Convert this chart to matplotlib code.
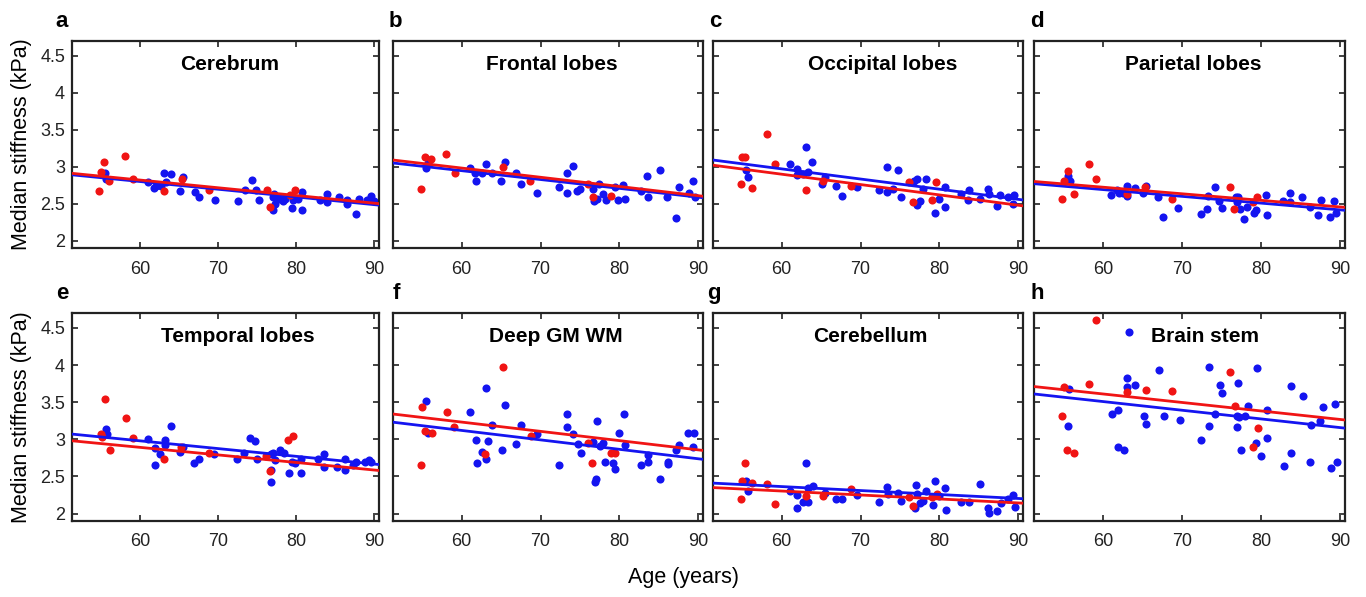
import matplotlib
matplotlib.use("Agg")
import matplotlib.pyplot as plt

plt.rcParams["font.family"] = ["Liberation Sans", "DejaVu Sans"]

# ages (years) and median stiffness (kPa), per region
cerebrum_red_age = [54.8, 55.0, 55.4, 56.1, 58.1, 59.1, 63.1, 65.4, 68.9, 76.2, 76.7, 79.2, 79.8]
cerebrum_red_kpa = [2.67, 2.93, 3.07, 2.81, 3.14, 2.83, 2.67, 2.84, 2.68, 2.68, 2.45, 2.62, 2.69]
cerebrum_blue_age = [55.5, 55.7, 61.0, 61.8, 62.1, 62.7, 63.1, 63.3, 64.0, 65.5, 65.1, 67.0, 67.6,
                     69.6, 72.5, 73.4, 74.3, 74.9, 75.2, 77.0, 77.2, 77.0, 77.3, 77.8, 78.3, 78.6,
                     79.4, 79.6, 80.2, 80.8, 80.8, 83.0, 83.9, 83.9, 85.5, 86.5, 86.5, 87.6, 88.0,
                     89.0, 89.6, 89.9]
cerebrum_blue_kpa = [2.91, 2.83, 2.79, 2.71, 2.74, 2.74, 2.91, 2.79, 2.90, 2.86, 2.67, 2.66, 2.59,
                     2.55, 2.54, 2.68, 2.82, 2.68, 2.55, 2.59, 2.63, 2.41, 2.50, 2.56, 2.54, 2.56,
                     2.44, 2.55, 2.56, 2.66, 2.42, 2.55, 2.63, 2.52, 2.59, 2.50, 2.55, 2.36, 2.56,
                     2.55, 2.61, 2.54]

frontal_red_age = [54.9, 55.4, 56.1, 58.0, 59.1, 65.3, 68.7, 76.0, 76.6, 78.9]
frontal_red_kpa = [2.70, 3.13, 3.11, 3.17, 2.91, 2.99, 2.80, 2.77, 2.59, 2.61]
frontal_blue_age = [55.5, 55.7, 61.0, 61.8, 61.7, 62.6, 63.1, 63.9, 65.0, 65.5, 66.9, 67.5, 69.6,
                    72.3, 73.3, 73.3, 74.1, 74.6, 75.0, 76.7, 76.8, 77.1, 77.4, 77.9, 78.3, 79.5,
                    79.8, 80.5, 80.7, 82.7, 83.5, 83.6, 85.2, 86.0, 87.2, 87.6, 88.8, 89.3, 89.6]
frontal_blue_kpa = [2.98, 3.05, 2.98, 2.81, 2.92, 2.91, 3.03, 2.92, 2.81, 3.07, 2.91, 2.77, 2.64,
                    2.72, 2.91, 2.64, 3.01, 2.67, 2.70, 2.70, 2.54, 2.56, 2.77, 2.63, 2.55, 2.72,
                    2.55, 2.75, 2.56, 2.67, 2.88, 2.59, 2.95, 2.59, 2.30, 2.73, 2.65, 2.80, 2.59]

occipital_red_age = [54.9, 55.0, 55.4, 56.2, 58.1, 59.1, 63.1, 65.2, 68.8, 76.1, 76.7, 79.1, 79.6]
occipital_red_kpa = [2.77, 3.13, 3.13, 2.71, 3.44, 3.04, 2.68, 2.81, 2.74, 2.79, 2.52, 2.55, 2.79]
occipital_blue_age = [55.5, 55.8, 61.0, 61.9, 62.0, 62.7, 63.1, 63.3, 63.9, 65.5, 65.1, 66.9, 67.6,
                      69.6, 72.3, 73.3, 73.4, 74.1, 74.7, 75.1, 76.8, 77.2, 77.1, 77.5, 77.9, 78.3,
                      79.5, 79.9, 80.7, 80.7, 82.8, 83.7, 83.6, 85.2, 86.2, 86.3, 87.3, 87.7, 88.7,
                      89.5, 89.3]
occipital_blue_kpa = [2.95, 2.86, 3.03, 2.97, 2.89, 2.90, 3.27, 2.93, 3.07, 2.86, 2.77, 2.74, 2.60,
                      2.73, 2.68, 2.99, 2.66, 2.70, 2.95, 2.59, 2.81, 2.84, 2.48, 2.54, 2.70, 2.84,
                      2.38, 2.56, 2.73, 2.46, 2.63, 2.69, 2.55, 2.56, 2.70, 2.63, 2.47, 2.62, 2.59,
                      2.62, 2.50]

parietal_red_age = [54.9, 55.1, 55.6, 56.3, 58.2, 59.1, 63.1, 65.3, 68.8, 76.1, 76.6, 79.0, 79.5]
parietal_red_kpa = [2.56, 2.81, 2.94, 2.63, 3.03, 2.84, 2.63, 2.73, 2.56, 2.73, 2.43, 2.52, 2.59]
parietal_blue_age = [55.6, 55.9, 61.0, 61.8, 62.1, 62.6, 63.1, 63.1, 64.0, 65.1, 65.5, 67.0, 67.6,
                     69.5, 72.4, 73.2, 73.3, 74.2, 74.7, 75.0, 76.8, 77.1, 76.9, 77.3, 77.9, 78.2,
                     79.1, 79.4, 80.6, 80.7, 82.8, 83.6, 83.6, 85.2, 86.2, 87.2, 87.6, 88.7, 89.2,
                     89.5]
parietal_blue_kpa = [2.87, 2.81, 2.62, 2.68, 2.64, 2.65, 2.74, 2.61, 2.71, 2.64, 2.74, 2.59, 2.32,
                     2.44, 2.36, 2.43, 2.61, 2.73, 2.53, 2.44, 2.59, 2.59, 2.52, 2.43, 2.29, 2.46,
                     2.38, 2.42, 2.62, 2.35, 2.54, 2.64, 2.52, 2.59, 2.46, 2.34, 2.55, 2.32, 2.54,
                     2.38]

temporal_red_age = [55.0, 55.1, 55.5, 56.2, 58.2, 59.1, 63.1, 65.3, 68.8, 76.1, 76.6, 79.0, 79.6]
temporal_red_kpa = [3.07, 3.03, 3.54, 2.85, 3.28, 3.02, 2.74, 2.89, 2.82, 2.77, 2.57, 2.99, 3.05]
temporal_blue_age = [55.6, 55.8, 61.0, 61.9, 61.9, 62.6, 63.2, 63.2, 64.0, 65.1, 65.5, 66.9, 67.6,
                     69.5, 72.4, 73.3, 74.1, 74.7, 75.0, 76.8, 77.0, 76.8, 76.8, 77.3, 77.9, 78.4,
                     79.1, 79.4, 79.9, 80.6, 80.6, 82.8, 83.6, 83.6, 85.2, 86.2, 86.2, 87.3, 87.7,
                     88.8, 89.3, 89.6]
temporal_blue_kpa = [3.14, 3.07, 3.00, 2.88, 2.66, 2.80, 2.99, 2.92, 3.18, 2.83, 2.90, 2.68, 2.73,
                     2.80, 2.73, 2.82, 3.02, 2.98, 2.74, 2.80, 2.82, 2.43, 2.59, 2.72, 2.86, 2.82,
                     2.54, 2.69, 2.68, 2.74, 2.55, 2.73, 2.80, 2.63, 2.63, 2.73, 2.59, 2.66, 2.70,
                     2.69, 2.72, 2.69]

deep_red_age = [54.8, 55.0, 55.4, 56.2, 58.1, 59.0, 63.0, 65.3, 68.8, 76.0, 76.5, 79.0, 79.5]
deep_red_kpa = [2.65, 3.43, 3.11, 3.08, 3.37, 3.16, 2.80, 3.97, 3.05, 2.95, 2.68, 2.82, 2.81]
deep_blue_age = [55.5, 55.7, 61.0, 61.8, 61.9, 62.6, 63.1, 63.1, 63.3, 63.9, 65.1, 65.5, 66.9,
                 67.5, 69.6, 72.3, 73.3, 73.3, 74.1, 74.7, 75.1, 76.7, 76.9, 77.0, 77.1, 77.5,
                 77.9, 78.2, 79.2, 79.4, 79.9, 80.6, 80.7, 82.8, 83.6, 83.6, 85.2, 86.1, 86.2,
                 87.2, 87.6, 88.7, 89.5, 89.3]
deep_blue_kpa = [3.51, 3.08, 3.37, 2.99, 2.68, 2.83, 3.69, 2.73, 2.98, 3.19, 2.86, 3.46, 2.93,
                 3.19, 3.07, 2.66, 3.34, 3.16, 3.07, 2.93, 2.82, 2.96, 2.42, 2.46, 3.25, 2.91,
                 2.95, 2.69, 2.68, 2.60, 3.09, 3.34, 2.92, 2.65, 2.79, 2.69, 2.46, 2.70, 2.67,
                 2.86, 2.92, 3.08, 3.08, 2.89]

cerebellum_red_age = [54.9, 55.0, 55.4, 56.2, 58.1, 59.1, 63.1, 65.3, 68.8, 76.1, 76.7, 79.1, 79.7]
cerebellum_red_kpa = [2.19, 2.44, 2.68, 2.41, 2.40, 2.13, 2.23, 2.24, 2.33, 2.22, 2.10, 2.22, 2.27]
cerebellum_blue_age = [55.5, 55.8, 61.0, 61.9, 62.0, 62.7, 63.1, 63.3, 63.3, 64.0, 65.5, 66.9, 67.6,
                       69.6, 72.3, 73.3, 73.5, 74.7, 75.1, 77.0, 76.9, 77.2, 77.5, 77.9, 78.3, 79.2,
                       79.5, 80.0, 80.7, 80.8, 82.8, 83.8, 85.2, 86.2, 86.3, 87.3, 87.8, 88.7, 89.3,
                       89.6]
cerebellum_blue_kpa = [2.44, 2.31, 2.30, 2.08, 2.25, 2.15, 2.68, 2.16, 2.35, 2.37, 2.28, 2.19, 2.20,
                       2.25, 2.16, 2.36, 2.27, 2.28, 2.17, 2.39, 2.07, 2.27, 2.14, 2.17, 2.31, 2.12,
                       2.44, 2.23, 2.34, 2.05, 2.15, 2.15, 2.40, 2.08, 2.01, 2.04, 2.14, 2.20, 2.25,
                       2.09]

stem_red_age = [54.9, 55.1, 55.5, 56.3, 58.2, 59.1, 63.1, 65.4, 68.8, 76.1, 76.7, 79.0, 79.6]
stem_red_kpa = [3.32, 3.71, 2.86, 2.81, 3.75, 4.61, 3.64, 3.67, 3.65, 3.91, 3.45, 2.89, 3.15]
stem_blue_age = [55.7, 55.6, 61.1, 61.9, 61.9, 62.7, 63.1, 63.1, 63.3, 64.0, 65.2, 65.5, 67.1,
                 67.7, 69.7, 72.4, 73.4, 73.4, 74.2, 74.8, 75.1, 76.9, 77.1, 76.9, 77.2, 77.5,
                 78.0, 78.3, 79.3, 79.5, 80.0, 80.7, 80.8, 82.9, 83.8, 83.8, 85.3, 86.3, 86.2,
                 87.4, 87.8, 88.8, 89.3, 89.6]
stem_blue_kpa = [3.68, 3.18, 3.34, 3.40, 2.89, 2.85, 3.82, 3.71, 4.44, 3.73, 3.31, 3.21, 3.93,
                 3.31, 3.26, 2.99, 3.97, 3.18, 3.34, 3.73, 3.62, 3.17, 3.76, 3.31, 3.30, 2.86,
                 3.31, 3.45, 2.95, 3.96, 2.77, 3.39, 3.02, 2.64, 2.82, 3.72, 3.58, 3.19, 2.70,
                 3.25, 3.44, 2.61, 3.48, 2.70]

# regression lines: stiffness at the two ends of the age axis
fit_age = [51.3, 90.6]
red_fit = {"Cerebrum": [2.91, 2.50], "Frontal lobes": [3.09, 2.60],
           "Occipital lobes": [3.02, 2.47], "Parietal lobes": [2.80, 2.45],
           "Temporal lobes": [2.98, 2.58], "Deep GM WM": [3.34, 2.85],
           "Cerebellum": [2.35, 2.14], "Brain stem": [3.71, 3.26]}
blue_fit = {"Cerebrum": [2.89, 2.48], "Frontal lobes": [3.05, 2.58],
            "Occipital lobes": [3.09, 2.55], "Parietal lobes": [2.77, 2.41],
            "Temporal lobes": [3.07, 2.66], "Deep GM WM": [3.23, 2.73],
            "Cerebellum": [2.41, 2.20], "Brain stem": [3.61, 3.15]}

panels = [
    ("a", "Cerebrum", cerebrum_red_age, cerebrum_red_kpa, cerebrum_blue_age, cerebrum_blue_kpa),
    ("b", "Frontal lobes", frontal_red_age, frontal_red_kpa, frontal_blue_age, frontal_blue_kpa),
    ("c", "Occipital lobes", occipital_red_age, occipital_red_kpa, occipital_blue_age, occipital_blue_kpa),
    ("d", "Parietal lobes", parietal_red_age, parietal_red_kpa, parietal_blue_age, parietal_blue_kpa),
    ("e", "Temporal lobes", temporal_red_age, temporal_red_kpa, temporal_blue_age, temporal_blue_kpa),
    ("f", "Deep GM WM", deep_red_age, deep_red_kpa, deep_blue_age, deep_blue_kpa),
    ("g", "Cerebellum", cerebellum_red_age, cerebellum_red_kpa, cerebellum_blue_age, cerebellum_blue_kpa),
    ("h", "Brain stem", stem_red_age, stem_red_kpa, stem_blue_age, stem_blue_kpa),
]

RED = "#f01414"
BLUE = "#1414f0"
W, H = 1366, 597
cols = [(72, 379), (393, 703), (713, 1023), (1034, 1345)]
rows = [(41, 248), (313, 521)]
title_x = [0.515, 0.513, 0.548, 0.511, 0.54, 0.525, 0.509, 0.55]
letter_x = [-0.033, 0.006, 0.006, 0.01, -0.03, 0.01, 0.003, 0.01]

fig = plt.figure(figsize=(W / 100, H / 100), dpi=100)
for i, (letter, name, rx, ry, bx, by) in enumerate(panels):
    top, bot = rows[i // 4]
    left, right = cols[i % 4]
    ax = fig.add_axes([left / W, 1 - bot / H, (right - left) / W, (bot - top) / H])
    ax.scatter(bx, by, s=34, color=BLUE, linewidths=0, zorder=2)
    ax.scatter(rx, ry, s=34, color=RED, linewidths=0, zorder=2)
    ax.plot(fit_age, blue_fit[name], color=BLUE, lw=2, zorder=3)
    ax.plot(fit_age, red_fit[name], color=RED, lw=2, zorder=3)
    ax.set_xlim(fit_age)
    ax.set_ylim(1.9, 4.7)
    ax.set_xticks([60, 70, 80, 90])
    ax.set_yticks([2, 2.5, 3, 3.5, 4, 4.5])
    ax.set_yticklabels(["2", "2.5", "3", "3.5", "4", "4.5"])
    ax.tick_params(direction="in", top=True, right=True, length=4, width=1.2,
                   labelsize=13, pad=5, colors="#222222")
    ax.tick_params(axis="x", pad=9)
    for sp in ax.spines.values():
        sp.set_linewidth(1.6)
        sp.set_color("#222222")
    if i % 4 == 0:
        ax.set_ylabel("Median stiffness (kPa)", fontsize=15.5)
        ax.yaxis.set_label_coords(-0.13, 0.5)
    else:
        ax.set_yticklabels([])
    ax.text(title_x[i], 0.885, name, transform=ax.transAxes, ha="center", va="center",
            fontsize=15, fontweight="bold")
    ax.text(letter_x[i], 1.095, letter, transform=ax.transAxes, ha="center", va="center",
            fontsize=16, fontweight="bold")

fig.text(0.5, 1 - 578 / H, "Age (years)", ha="center", va="center", fontsize=15.5)
fig.savefig("out.png", dpi=100)
